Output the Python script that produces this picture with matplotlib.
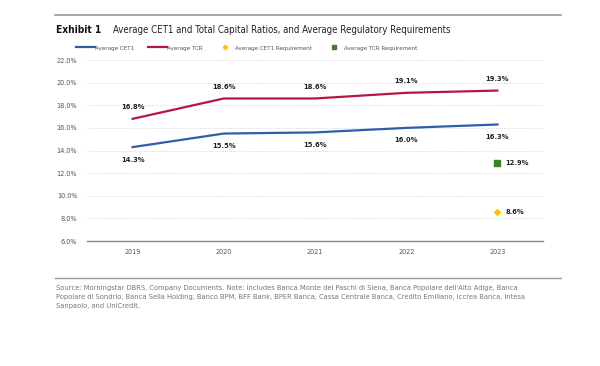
import matplotlib.pyplot as plt
from matplotlib.lines import Line2D

plt.rcParams['font.family'] = ['DejaVu Sans']
plt.rcParams['font.stretch'] = 'condensed'

# data
years = [2019, 2020, 2021, 2022, 2023]
cet1 = [14.3, 15.5, 15.6, 16.0, 16.3]
tcr = [16.8, 18.6, 18.6, 19.1, 19.3]
req_year = 2023
cet1_req = 8.6
tcr_req = 12.9
yticks = [6, 8, 10, 12, 14, 16, 18, 20, 22]

blue = "#2E5EAA"
red = "#B5173F"
yellow = "#FFC000"
green = "#3F7F2A"
grey_txt = "#555555"

fig = plt.figure(figsize=(6, 3.66), dpi=100)
ax = fig.add_axes([0.145, 0.3415, 0.76, 0.4945])

ax.plot(years, cet1, color=blue, lw=1.6)
ax.plot(years, tcr, color=red, lw=1.6)
ax.scatter([req_year], [cet1_req], color=yellow, marker="D", s=8, zorder=3)
ax.scatter([req_year], [tcr_req], color=green, marker="s", s=20, zorder=3)

lab = dict(ha="center", va="center", fontsize=5.4, fontweight="bold", color="#222222")
for x, v in zip(years, cet1):
    ax.annotate(f"{v:.1f}%", (x, v), xytext=(0, -9), textcoords="offset points", **lab)
for x, v in zip(years, tcr):
    ax.annotate(f"{v:.1f}%", (x, v), xytext=(0, 8.5), textcoords="offset points", **lab)
lab["ha"] = "left"
ax.annotate(f"{tcr_req:.1f}%", (req_year, tcr_req), xytext=(6, 0), textcoords="offset points", **lab)
ax.annotate(f"{cet1_req:.1f}%", (req_year, cet1_req), xytext=(6, 0), textcoords="offset points", **lab)

ax.set_xlim(2018.5, 2023.5)
ax.set_ylim(6, 22)
ax.set_xticks(years)
ax.set_yticks(yticks)
ax.set_yticklabels([f"{t:.1f}%" for t in yticks])
ax.tick_params(axis="both", length=0, labelsize=5.2, colors=grey_txt)
ax.tick_params(axis="x", pad=6)
ax.tick_params(axis="y", pad=7)
for y in yticks[1:]:
    ax.axhline(y, color="#CCCCCC", lw=0.6, ls=(0, (1, 1.5)), zorder=0)
for s in ["top", "right", "left"]:
    ax.spines[s].set_visible(False)
ax.spines["bottom"].set_color("#888888")
ax.spines["bottom"].set_linewidth(1.0)

# legend
handles = [
    Line2D([], [], color=blue, lw=1.6, label="Average CET1"),
    Line2D([], [], color=red, lw=1.6, label="Average TCR"),
    Line2D([], [], color=yellow, marker="D", ms=2.2, ls="none", label="Average CET1 Requirement"),
    Line2D([], [], color=green, marker="s", ms=3.2, ls="none", label="Average TCR Requirement"),
]
fig.legend(handles=handles, loc="center left", bbox_to_anchor=(0.118, 0.869), ncol=4,
           frameon=False, fontsize=4.5, handlelength=3.0, handletextpad=0.05,
           columnspacing=2.1, labelcolor=grey_txt)

# header rule and title
fig.add_artist(Line2D([0.092, 0.935], [0.959, 0.959], color="#999999", lw=1.2))
fig.text(0.094, 0.917, "Exhibit 1", fontsize=7.3, fontweight="bold", va="center", color="#111111")
fig.text(0.188, 0.917, "Average CET1 and Total Capital Ratios, and Average Regulatory Requirements",
         fontsize=6.95, va="center", color="#222222")

# footer
fig.add_artist(Line2D([0.092, 0.935], [0.240, 0.240], color="#999999", lw=1.0))
fig.text(0.094, 0.222,
         "Source: Morningstar DBRS, Company Documents. Note: includes Banca Monte dei Paschi di Siena, Banca Popolare dell'Alto Adige, Banca\n"
         "Popolare di Sondrio, Banca Sella Holding, Banco BPM, BFF Bank, BPER Banca, Cassa Centrale Banca, Credito Emiliano, Iccrea Banca, Intesa\n"
         "Sanpaolo, and UniCredit.",
         fontsize=5.4, va="top", color="#777777", linespacing=1.65)

fig.savefig("out.png", dpi=100, facecolor="white")
